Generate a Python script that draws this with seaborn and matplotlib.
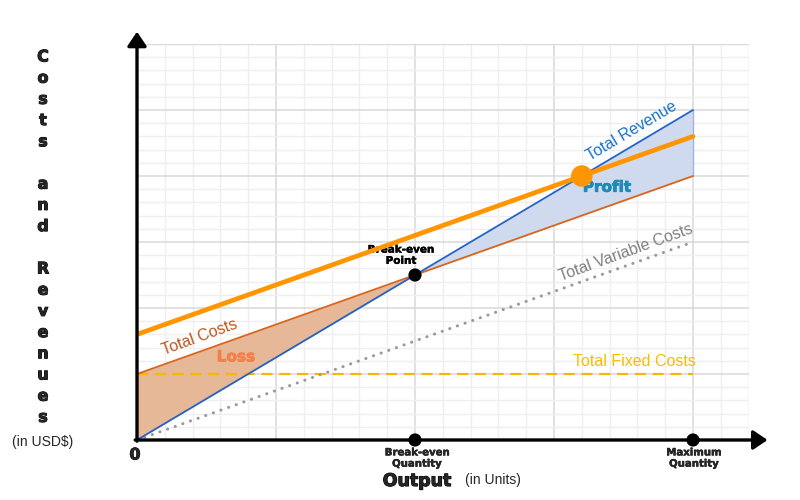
import numpy as np
import pandas as pd
import matplotlib
matplotlib.use("Agg")
import matplotlib.pyplot as plt
import matplotlib.patheffects as pe
from matplotlib.ticker import MultipleLocator
import seaborn as sns

# ---- data (output in units of grid cells, money in grid cells) ----
output = [0, 4]
break_even_q = 2
max_q = 4
total_revenue = [0, 5]
total_costs = [1, 4]
total_costs_high = [1.6, 4.6]
total_variable = [0, 3]
total_fixed = [1, 1]
break_even_point = (2, 2.5)
high_point = (3.2, 4)
ylabel_letters = list("Costs") + [""] + list("and") + [""] + list("Revenues")

sns.set_theme(style="white")
plt.rcParams['font.family'] = ['Liberation Sans', 'DejaVu Sans']
HEAVY = ['DejaVu Sans']


def heavy(color, w=0.6):
    return [pe.withStroke(linewidth=w, foreground=color)]


fig = plt.figure(figsize=(8, 5), dpi=100)
ax = fig.add_axes([137/800, 60/500, 611.6/800, 396/500])
ax.set_xlim(0, 4.4)
ax.set_ylim(0, 6)
for s in ax.spines.values():
    s.set_visible(False)
ax.xaxis.set_major_locator(MultipleLocator(1))
ax.xaxis.set_minor_locator(MultipleLocator(0.2))
ax.yaxis.set_major_locator(MultipleLocator(1))
ax.yaxis.set_minor_locator(MultipleLocator(0.2))
ax.grid(which='major', color='#d9d9d9', lw=1.1)
ax.grid(which='minor', color='#efefef', lw=1.0)
ax.tick_params(which='both', length=0, labelbottom=False, labelleft=False)
ax.axvline(4.4, color='#efefef', lw=1.0, zorder=0)
ax.axhline(6, color='#e0e0e0', lw=1.0, zorder=0)

df = pd.DataFrame({"q": output, "tr": total_revenue, "tc": total_costs,
                   "tc2": total_costs_high, "tvc": total_variable, "tfc": total_fixed})

# loss & profit fills
qx = np.array([0, break_even_q])
ax.fill_between(qx, np.interp(qx, output, total_revenue), np.interp(qx, output, total_costs),
                color='#e6b898', lw=0, zorder=1)
qx2 = np.array([break_even_q, max_q])
ax.fill_between(qx2, np.interp(qx2, output, total_costs), np.interp(qx2, output, total_revenue),
                color='#cfdaee', lw=0, zorder=1)
ax.plot([max_q, max_q], [total_costs[1], total_revenue[1]], color='#9fb3dc', lw=1, zorder=2)

sns.lineplot(data=df, x="q", y="tfc", ax=ax, color='#f5b700', lw=1.6, linestyle=(0, (5, 3)), zorder=3)
sns.lineplot(data=df, x="q", y="tvc", ax=ax, color='#9a9a9a', lw=2.2, linestyle=(0, (0.05, 2.6)),
             zorder=3)
ax.lines[-1].set_dash_capstyle('round')
sns.lineplot(data=df, x="q", y="tc", ax=ax, color='#d9651c', lw=1.3, zorder=4)
sns.lineplot(data=df, x="q", y="tr", ax=ax, color='#2463c6', lw=1.3, zorder=4)
sns.lineplot(data=df, x="q", y="tc2", ax=ax, color='#ff9500', lw=3.4, zorder=5)
ax.set_xlabel("")
ax.set_ylabel("")

# points
sns.scatterplot(x=[break_even_point[0]], y=[break_even_point[1]], ax=ax, color='black', s=90,
                zorder=6, edgecolor='none')
sns.scatterplot(x=[high_point[0]], y=[high_point[1]], ax=ax, color='#ff9500', s=240,
                zorder=6, edgecolor='none')
sns.scatterplot(x=[break_even_q, max_q], y=[0, 0], ax=ax, color='black', s=90,
                zorder=8, edgecolor='none', clip_on=False)

# axes arrows
arrow = dict(arrowstyle='-|>,head_length=0.86,head_width=0.58', lw=2.4, color='black',
             mutation_scale=10, shrinkA=0, shrinkB=0)
ax.annotate('', xy=(0, 1.031), xycoords='axes fraction', xytext=(0, -0.003),
            arrowprops=arrow, annotation_clip=False, zorder=7)
ax.annotate('', xy=(1.031, 0), xycoords='axes fraction', xytext=(-0.003, 0),
            arrowprops=arrow, annotation_clip=False, zorder=7)

# labels in data space
ax.text(3.56, 4.68, "Total Revenue", color='#1a73c8', fontsize=11.5, rotation=30.7,
        ha='center', va='center', rotation_mode='anchor')
ax.text(3.52, 2.84, "Total Variable Costs", color='#808080', fontsize=11.5, rotation=20,
        ha='center', va='center', rotation_mode='anchor')
ax.text(0.45, 1.55, "Total Costs", color='#c0561c', fontsize=11.5, rotation=20,
        ha='center', va='center', rotation_mode='anchor')
ax.text(3.58, 1.19, "Total Fixed Costs", color='#f5be00', fontsize=11.5,
        ha='center', va='center')
ax.text(0.71, 1.26, "Loss", color='#f4804a', fontsize=11, fontweight='bold', family=HEAVY,
        ha='center', va='center', path_effects=heavy('#f4804a'))
ax.text(3.38, 3.83, "Profit", color='#1e8ab6', fontsize=11, fontweight='bold', family=HEAVY,
        ha='center', va='center', path_effects=heavy('#1e8ab6'))
ax.text(1.9, 2.8, "Break-even\nPoint", color='black', fontsize=7.5, fontweight='bold',
        family=HEAVY, ha='center', va='center', linespacing=1.15,
        path_effects=heavy('black', 0.3))

# figure-level text
fig.text(135/800, 1 - 455/500, "0", fontsize=11.5, fontweight='bold', family=HEAVY,
         ha='center', va='center', path_effects=heavy('black'))
fig.text(417/800, 1 - 458/500, "Break-even\nQuantity", fontsize=7.3, fontweight='bold',
         family=HEAVY, ha='center', va='center', linespacing=1.15,
         path_effects=heavy('black', 0.3))
fig.text(694/800, 1 - 458/500, "Maximum\nQuantity", fontsize=7.3, fontweight='bold',
         family=HEAVY, ha='center', va='center', linespacing=1.15,
         path_effects=heavy('black', 0.3))
fig.text(417/800, 1 - 481/500, "Output", fontsize=12.5, fontweight='bold', family=HEAVY,
         ha='center', va='center', path_effects=heavy('black', 0.8))
fig.text(493/800, 1 - 480/500, "(in Units)", fontsize=10, ha='center', va='center')
for i, ch in enumerate(ylabel_letters):
    if ch:
        fig.text(43/800, 1 - (57 + 21.2 * i)/500, ch, fontsize=11.5, fontweight='bold',
                 family=HEAVY, ha='center', va='center', path_effects=heavy('black', 0.7))
fig.text(43/800, 1 - 442/500, "(in USD$)", fontsize=10, ha='center', va='center')

fig.savefig("out.png", dpi=100)
